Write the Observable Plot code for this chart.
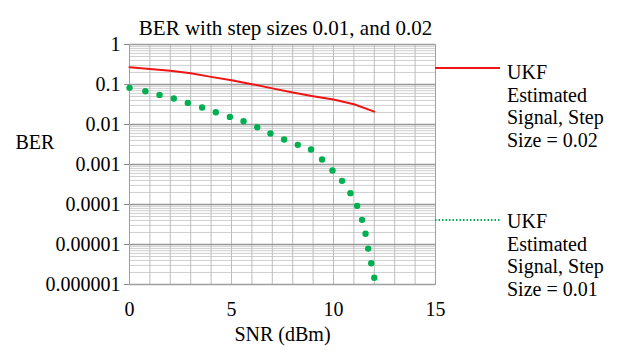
<!DOCTYPE html>
<html><head><meta charset="utf-8">
<script src="https://cdn.jsdelivr.net/npm/d3@7"></script>
<script src="https://cdn.jsdelivr.net/npm/@observablehq/plot@0.6"></script>
<style>
body{margin:0;background:#fff;}
#c{position:relative;width:619px;height:350px;font-family:"Liberation Serif","Tinos","DejaVu Serif","Noto Serif",serif;}
.leg{position:absolute;left:507px;font-size:20px;line-height:22.6px;color:#000;white-space:nowrap;}
#sw{position:absolute;left:0;top:0;}
#c svg text{font-family:"Liberation Serif","Tinos","DejaVu Serif","Noto Serif",serif;}
</style></head><body><div id="c"></div>
<script>
const snrRed = [0,1,2,3,4,5,6,7,8,9,10,11,12];
const berRed = [0.27,0.245,0.22,0.19,0.155,0.128,0.102,0.08,0.063,0.051,0.042,0.032,0.021];
const snrGreen = [0,0.78,1.47,2.17,2.86,3.56,4.23,4.92,5.59,6.26,6.91,7.58,8.25,8.9,9.44,9.95,10.42,10.83,11.16,11.4,11.57,11.7,11.85,12.0];
const berGreen = [0.0824,0.068,0.055,0.0446,0.0347,0.0265,0.0203,0.0155,0.0121,0.00856,0.00594,0.00421,0.0031,0.00237,0.00133,0.000707,0.00039,0.000192,0.0000925,0.0000413,0.0000185,0.0000079,0.0000034,0.00000147];
const xTicks = [0,5,10,15];
const yTicks = [1,0.1,0.01,0.001,0.0001,0.00001,0.000001];
const yTickLabels = ["1","0.1","0.01","0.001","0.0001","0.00001","0.000001"];
const legendLabels = [["UKF","Estimated","Signal, Step","Size = 0.02"],["UKF","Estimated","Signal, Step","Size = 0.01"]];
const titleText = "BER with step sizes 0.01, and 0.02";
const xLabel = "SNR (dBm)";
const yLabel = "BER";

const serif = '"Liberation Serif","Tinos","DejaVu Serif","Noto Serif",serif';
const red = snrRed.map((x,i)=>({x, y: berRed[i]}));
const green = snrGreen.map((x,i)=>({x, y: berGreen[i]}));
const minorY = d3.scaleLog().domain([1e-6,1]).ticks().filter(v => !yTicks.some(t => Math.abs(v/t-1) < 1e-6));
const vGrid = d3.range(0,16);

const plot = Plot.plot({
  width: 619, height: 350,
  marginLeft: 129, marginRight: 184, marginTop: 44, marginBottom: 66,
  style: {fontFamily: serif, fontSize: "20px", background: "#fff", color: "#000"},
  x: {domain: [0,15]},
  y: {type: "log", domain: [1e-6, 1]},
  marks: [
    Plot.gridY(minorY, {stroke: "#cfcfcf", strokeOpacity: 1, strokeWidth: 1}),
    Plot.gridX(vGrid, {stroke: "#bdbdbd", strokeOpacity: 1, strokeWidth: 1}),
    Plot.gridY(yTicks, {stroke: "#999", strokeOpacity: 1, strokeWidth: 1.5}),
    Plot.frame({stroke: "#a0a0a0"}),
    Plot.axisY(yTicks, {tickFormat: d => yTickLabels[yTicks.indexOf(d)], tickSize: 5, tickPadding: 4, fontSize: 20, label: null, stroke: "#888"}),
    Plot.axisX(xTicks, {tickSize: 0, tickPadding: 17, fontSize: 20, label: null}),
    Plot.line(red, {x: "x", y: "y", stroke: "#f01414", strokeWidth: 2}),
    Plot.dot(green, {x: "x", y: "y", r: 3.2, fill: "#00b050"}),
    Plot.text([titleText], {frameAnchor: "top", dx: 3, dy: -24, fontSize: 21}),
    Plot.text([xLabel], {frameAnchor: "bottom", dy: 56, fontSize: 20}),
    Plot.text([yLabel], {frameAnchor: "left", dx: -114, dy: -22, textAnchor: "start", fontSize: 20})
  ]
});
const c = document.getElementById("c");
c.appendChild(plot);

const ns = "http://www.w3.org/2000/svg";
const sw = document.createElementNS(ns, "svg");
sw.setAttribute("id","sw"); sw.setAttribute("width","619"); sw.setAttribute("height","350");
const specs = [{y: 68, stroke: "#f01414", dash: null, top: 61}, {y: 220, stroke: "#00b050", dash: "1.5,2", top: 210}];
specs.forEach((s, i) => {
  const l = document.createElementNS(ns, "line");
  l.setAttribute("x1", 435); l.setAttribute("x2", 500);
  l.setAttribute("y1", s.y); l.setAttribute("y2", s.y);
  l.setAttribute("stroke", s.stroke); l.setAttribute("stroke-width", 2);
  if (s.dash) l.setAttribute("stroke-dasharray", s.dash);
  sw.appendChild(l);
  const d = document.createElement("div");
  d.className = "leg"; d.style.top = s.top + "px";
  d.innerHTML = legendLabels[i].join("<br>");
  c.appendChild(d);
});
c.appendChild(sw);
</script></body></html>
